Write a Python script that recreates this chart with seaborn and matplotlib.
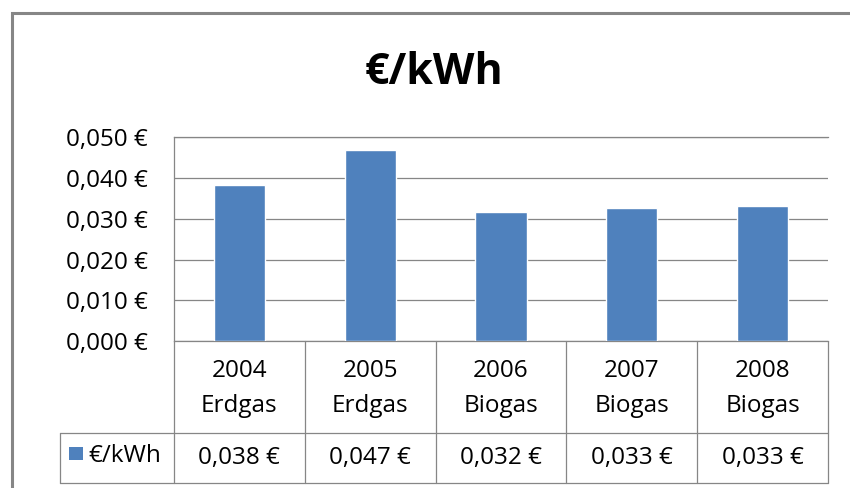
import matplotlib
matplotlib.use("Agg")
import matplotlib.pyplot as plt
import seaborn as sns
import pandas as pd
from matplotlib.patches import Rectangle
from matplotlib.lines import Line2D

# ---- data ----
years = ["2004", "2005", "2006", "2007", "2008"]
fuels = ["Erdgas", "Erdgas", "Biogas", "Biogas", "Biogas"]
values = [0.0382, 0.0468, 0.0317, 0.0326, 0.0331]
yticks = [0.000, 0.010, 0.020, 0.030, 0.040, 0.050]
title = "€/kWh"
series_name = "€/kWh"

BAR = "#4F81BD"
GRID = "#868686"


def eur(v):
    return f"{v:.3f}".replace(".", ",") + " €"


sns.set_theme(style="white")
plt.rcParams['font.family'] = ['Open Sans', 'DejaVu Sans']
plt.rcParams['text.color'] = 'black'
plt.rcParams['ytick.color'] = 'black'
plt.rcParams['ytick.labelcolor'] = 'black'

W, H = 850, 488
fig = plt.figure(figsize=(8.5, 4.88), dpi=100)
fig.patch.set_facecolor("white")

L, R, T, B = 174, 828, 137.3, 341
ax = fig.add_axes([L / W, 1 - B / H, (R - L) / W, (B - T) / H])

df = pd.DataFrame({"cat": [f"{y}\n{f}" for y, f in zip(years, fuels)], "val": values})
sns.barplot(data=df, x="cat", y="val", color=BAR, saturation=1, width=0.39, ax=ax, zorder=3)

ax.set_xlim(-0.5, 4.5)
ax.set_ylim(0, 0.05)
ax.set_yticks(yticks)
ax.set_yticklabels([eur(v) for v in yticks], fontsize=17.5, color="black")
ax.tick_params(axis='y', length=0, pad=19)
ax.set_xticks([])
ax.set_xlabel("")
ax.set_ylabel("")
ax.grid(axis='y', color=GRID, linewidth=0.9)
ax.set_axisbelow(True)
ax.spines["right"].set_visible(False)
for s in ["left", "top", "bottom"]:
    ax.spines[s].set_color(GRID)
    ax.spines[s].set_linewidth(0.9)


def ay(p):
    return (B - p) / (B - T)


xt = ax.get_xaxis_transform()
n = len(years)
# vertical lines of the data table
for k in range(n + 1):
    ax.plot([k - 0.5, k - 0.5], [ay(B), ay(483)], transform=xt, color=GRID,
            linewidth=0.9, clip_on=False)
# horizontal lines of the table (including legend cell)
for py in [433, 483]:
    fig.add_artist(Line2D([60 / W, R / W], [1 - py / H, 1 - py / H],
                          transform=fig.transFigure, color=GRID, linewidth=0.9))
fig.add_artist(Line2D([60 / W, 60 / W], [1 - 433 / H, 1 - 483 / H],
                      transform=fig.transFigure, color=GRID, linewidth=0.9))

# table texts
for i in range(n):
    ax.text(i, ay(371), years[i], transform=xt, ha="center", va="center",
            fontsize=17.5, color="black")
    ax.text(i, ay(406), fuels[i], transform=xt, ha="center", va="center",
            fontsize=17.5, color="black")
    ax.text(i, ay(458), eur(values[i]), transform=xt, ha="center", va="center",
            fontsize=17.5, color="black")

# legend key
fig.add_artist(Rectangle((69 / W, 1 - 460 / H), 14 / W, 13 / H, transform=fig.transFigure,
                         facecolor=BAR, edgecolor="none"))
fig.text(88 / W, 1 - 456 / H, series_name, ha="left", va="center", fontsize=17.5,
         color="black")

# title
fig.text(434 / W, 1 - 73 / H, title, ha="center", va="center", fontsize=31,
         fontweight="bold", color="black")

# outer chart border
fig.add_artist(Rectangle((12 / W, -0.05), 1.0, (1 - 13 / H) + 0.05, transform=fig.transFigure,
                         fill=False, edgecolor=GRID, linewidth=2.2))

fig.savefig("out.png", dpi=100)
